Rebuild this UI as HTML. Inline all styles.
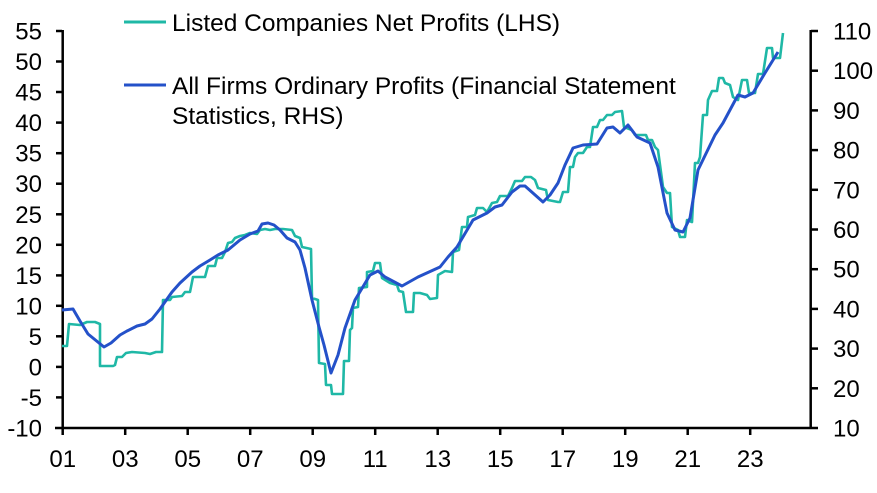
<!DOCTYPE html>
<html><head><meta charset="utf-8"><style>
body{margin:0;background:#fff;}
svg{display:block;font-family:"Liberation Sans",Arial,sans-serif;}
</style></head><body>
<svg width="877" height="493" viewBox="0 0 877 493" xmlns="http://www.w3.org/2000/svg">
<g stroke="#000" stroke-width="2.5" fill="none">
<line x1="62.7" y1="30" x2="62.7" y2="429"/>
<line x1="55" y1="428" x2="818" y2="428"/>
<line x1="810.7" y1="30" x2="810.7" y2="429"/>
<line x1="56" y1="31" x2="62" y2="31"/><line x1="56" y1="61.5" x2="62" y2="61.5"/><line x1="56" y1="92" x2="62" y2="92"/><line x1="56" y1="122.6" x2="62" y2="122.6"/><line x1="56" y1="153.2" x2="62" y2="153.2"/><line x1="56" y1="183.7" x2="62" y2="183.7"/><line x1="56" y1="214.3" x2="62" y2="214.3"/><line x1="56" y1="244.8" x2="62" y2="244.8"/><line x1="56" y1="275.4" x2="62" y2="275.4"/><line x1="56" y1="305.8" x2="62" y2="305.8"/><line x1="56" y1="336.3" x2="62" y2="336.3"/><line x1="56" y1="366.9" x2="62" y2="366.9"/><line x1="56" y1="397.4" x2="62" y2="397.4"/>
<line x1="811" y1="31" x2="818" y2="31"/><line x1="811" y1="70.7" x2="818" y2="70.7"/><line x1="811" y1="110.4" x2="818" y2="110.4"/><line x1="811" y1="150.1" x2="818" y2="150.1"/><line x1="811" y1="189.8" x2="818" y2="189.8"/><line x1="811" y1="229.5" x2="818" y2="229.5"/><line x1="811" y1="269.2" x2="818" y2="269.2"/><line x1="811" y1="308.9" x2="818" y2="308.9"/><line x1="811" y1="348.6" x2="818" y2="348.6"/><line x1="811" y1="388.3" x2="818" y2="388.3"/>
<line x1="62.7" y1="428" x2="62.7" y2="435"/><line x1="125.2" y1="428" x2="125.2" y2="435"/><line x1="187.7" y1="428" x2="187.7" y2="435"/><line x1="250.2" y1="428" x2="250.2" y2="435"/><line x1="312.7" y1="428" x2="312.7" y2="435"/><line x1="375.2" y1="428" x2="375.2" y2="435"/><line x1="437.7" y1="428" x2="437.7" y2="435"/><line x1="500.2" y1="428" x2="500.2" y2="435"/><line x1="562.7" y1="428" x2="562.7" y2="435"/><line x1="625.2" y1="428" x2="625.2" y2="435"/><line x1="687.7" y1="428" x2="687.7" y2="435"/><line x1="750.2" y1="428" x2="750.2" y2="435"/>
</g>
<g font-size="24" fill="#000" text-anchor="end">
<text x="42" y="39.5">55</text><text x="42" y="70">50</text><text x="42" y="100.5">45</text><text x="42" y="131.1">40</text><text x="42" y="161.7">35</text><text x="42" y="192.2">30</text><text x="42" y="222.8">25</text><text x="42" y="253.3">20</text><text x="42" y="283.9">15</text><text x="42" y="314.3">10</text><text x="42" y="344.8">5</text><text x="42" y="375.4">0</text><text x="42" y="405.9">-5</text><text x="42" y="436.5">-10</text>
</g>
<g font-size="24" fill="#000" text-anchor="start">
<text x="833" y="39.5">110</text><text x="833" y="79.2">100</text><text x="833" y="118.9">90</text><text x="833" y="158.6">80</text><text x="833" y="198.3">70</text><text x="833" y="238">60</text><text x="833" y="277.7">50</text><text x="833" y="317.4">40</text><text x="833" y="357.1">30</text><text x="833" y="396.8">20</text><text x="833" y="436.5">10</text>
</g>
<g font-size="24" fill="#000" text-anchor="middle">
<text x="62.7" y="467">01</text><text x="125.2" y="467">03</text><text x="187.7" y="467">05</text><text x="250.2" y="467">07</text><text x="312.7" y="467">09</text><text x="375.2" y="467">11</text><text x="437.7" y="467">13</text><text x="500.2" y="467">15</text><text x="562.7" y="467">17</text><text x="625.2" y="467">19</text><text x="687.7" y="467">21</text><text x="750.2" y="467">23</text>
</g>
<polyline fill="none" stroke="#1fb8a6" stroke-width="2.6" stroke-linejoin="round" points="62,346 67,346 69,324 80,325 87,322 95,322 100,324 100,366 113,366 115,365 117,357 122,357 126,353 132,352 145,353 150,354 156,352 162,352 163,300 170,300 172,297 182,296 185,292 190,292 193,277 205,277 208,266 215,266 217,258 222,258 225,252 228,243 232,242 235,238 240,236 245,235 250,233 257,234 260,230 265,229 270,230 275,229 283,229 292,230 295,236 300,238 302,247 311,249 312,298 318,300 319,363 325,364 326,385 331,385 332,394 343,394 344,361 349,361 350,330 352,328 353,308 358,307 359,288 367,287 367,272 373,271 375,263 380,263 382,278 390,283 397,285 399,291 403,292 406,312 413,312 414,293 420,293 427,295 430,299 437,298 438,275 445,271 452,272 453,252 459,250 462,227 467,227 468,217 475,215 477,208 483,208 487,212 492,203 497,202 500,196 508,196 512,188 515,181 522,181 525,177 531,177 535,180 538,188 546,190 548,200 558,202 560,202 563,192 568,192 570,167 573,167 575,157 578,153 583,153 587,147 590,147 593,127 597,127 600,120 603,120 607,115 612,115 615,112 622,111 624,127 632,130 635,135 646,135 648,140 652,140 655,147 658,150 663,187 667,193 670,193 672,227 678,230 680,237 685,237 687,220 692,222 695,163 698,163 700,157 703,115 707,115 708,100 712,91 717,91 719,78 723,78 725,83 730,85 733,97 738,100 742,80 747,80 749,93 755,93 758,74 763,74 767,48 772,48 773,58 780,58 783,33"/>
<polyline fill="none" stroke="#2451c9" stroke-width="3" stroke-linejoin="round" points="62,310 73,309 80,321 88,334 104,347 111,343 120,335 127,331 137,326 145,324 152,319 160,309 172,292 180,283 192,272 200,266 210,260 218,255 228,250 240,240 250,234 258,231 262,224 268,223 274,225 280,230 287,238 295,242 300,250 305,268 312,300 319,327 324,345 331,373 338,355 345,328 355,300 370,275 378,271 385,277 402,286 418,277 440,267 448,257 457,247 473,220 487,213 495,207 502,205 512,192 520,186 525,186 543,202 550,195 558,183 565,165 573,148 583,145 597,144 607,128 613,127 620,133 628,125 637,137 650,143 658,167 667,213 675,230 683,232 690,218 698,170 715,135 723,123 738,95 745,97 753,93 765,73 778,52"/>
<line x1="124" y1="22" x2="166" y2="22" stroke="#1fb8a6" stroke-width="3"/>
<line x1="124" y1="85" x2="166" y2="85" stroke="#2451c9" stroke-width="3"/>
<g font-size="24.5" fill="#000">
<text x="172" y="31">Listed Companies Net Profits (LHS)</text>
<text x="172" y="94">All Firms Ordinary Profits (Financial Statement</text>
<text x="172" y="124">Statistics, RHS)</text>
</g>
</svg>
</body></html>
